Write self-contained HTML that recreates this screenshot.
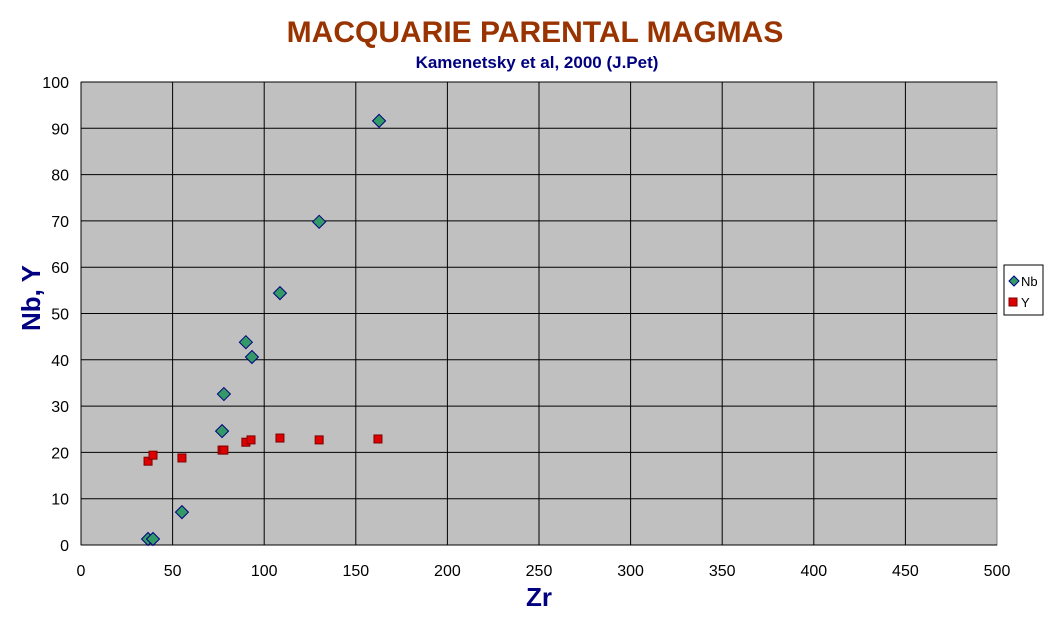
<!DOCTYPE html>
<html><head><meta charset="utf-8"><style>
body{margin:0;background:#fff;width:1050px;height:612px;overflow:hidden;font-family:"Liberation Sans",Arial,sans-serif}
</style></head><body>
<svg width="1050" height="612" xmlns="http://www.w3.org/2000/svg">
<text x="535" y="42" text-anchor="middle" font-size="30" font-weight="bold" fill="#993300">MACQUARIE PARENTAL MAGMAS</text>
<text x="537" y="68" text-anchor="middle" font-size="17" font-weight="bold" fill="#000080">Kamenetsky et al, 2000 (J.Pet)</text>
<rect x="81" y="82" width="916" height="463" fill="#c0c0c0" stroke="#808080"/>
<g id="grid"></g><g id="ticks"></g><g id="marks"></g>
<text x="539" y="606" text-anchor="middle" font-size="26" font-weight="bold" fill="#000080">Zr</text>
<text transform="translate(40,298) rotate(-90)" text-anchor="middle" font-size="26" font-weight="bold" fill="#000080">Nb, Y</text>
<g>
<rect x="1004" y="265" width="39" height="50" fill="#fff" stroke="#000"/>
<polygon points="1014,276 1019,281 1014,286 1009,281" fill="#339966" stroke="#000080"/>
<text x="1021" y="286" font-size="13">Nb</text>
<rect x="1009" y="298" width="8" height="8" fill="#dd0000" stroke="#800000"/>
<text x="1021" y="307" font-size="13">Y</text>
</g>
</svg>
<script>
const zr=[36.6,39.3,55.1,77,78,90,93.3,108.6,130,162.7];
const nb=[1.3,1.3,7.1,24.6,32.6,43.8,40.6,54.4,69.8,91.6];
const zrY=[36.6,39.3,55.1,77,78,90,92.8,108.6,130,162.1];
const yv=[18.1,19.4,18.8,20.5,20.5,22.2,22.7,23.1,22.7,22.9];
const xTicks=[0,50,100,150,200,250,300,350,400,450,500];
const yTicks=[0,10,20,30,40,50,60,70,80,90,100];
const NS="http://www.w3.org/2000/svg";
const X=v=>81+v*916/500, Y=v=>545-v*463/100;
function mk(t,a,p){const e=document.createElementNS(NS,t);for(const k in a)e.setAttribute(k,a[k]);p.appendChild(e);return e;}
const g=document.getElementById('grid'),tk=document.getElementById('ticks'),m=document.getElementById('marks');
yTicks.forEach(v=>{
 if(v>0){const l=mk('line',{x1:81,x2:997,y1:Y(v),y2:Y(v),stroke:'#000','stroke-width':1},g);
 
 }
 const t=mk('text',{x:69,y:Y(v)+6,'text-anchor':'end','font-size':16},tk);t.textContent=v;
 
 
});
xTicks.forEach(v=>{
 if(v>0&&v<500){const l=mk('line',{x1:X(v),x2:X(v),y1:82,y2:545,stroke:'#000','stroke-width':1},g);
 
 }
 const t=mk('text',{x:X(v),y:576,'text-anchor':'middle','font-size':16},tk);t.textContent=v;
 
 
});
mk('line',{x1:81,x2:997,y1:545,y2:545,stroke:'#000'},g);
mk('line',{x1:81,x2:81,y1:82,y2:545,stroke:'#000'},g);
zrY.forEach((z,i)=>{
 const r=mk('rect',{x:X(z)-4,y:Y(yv[i])-4,width:8,height:8,fill:'#dd0000',stroke:'#800000'},m);
 
 
});
zr.forEach((z,i)=>{
 const cx=X(z),cy=Y(nb[i]);
 const p=mk('polygon',{points:`${cx},${cy-6.5} ${cx+6.5},${cy} ${cx},${cy+6.5} ${cx-6.5},${cy}`,fill:'#339966',stroke:'#000080','stroke-width':1},m);
 
 
});
</script>
</body></html>
